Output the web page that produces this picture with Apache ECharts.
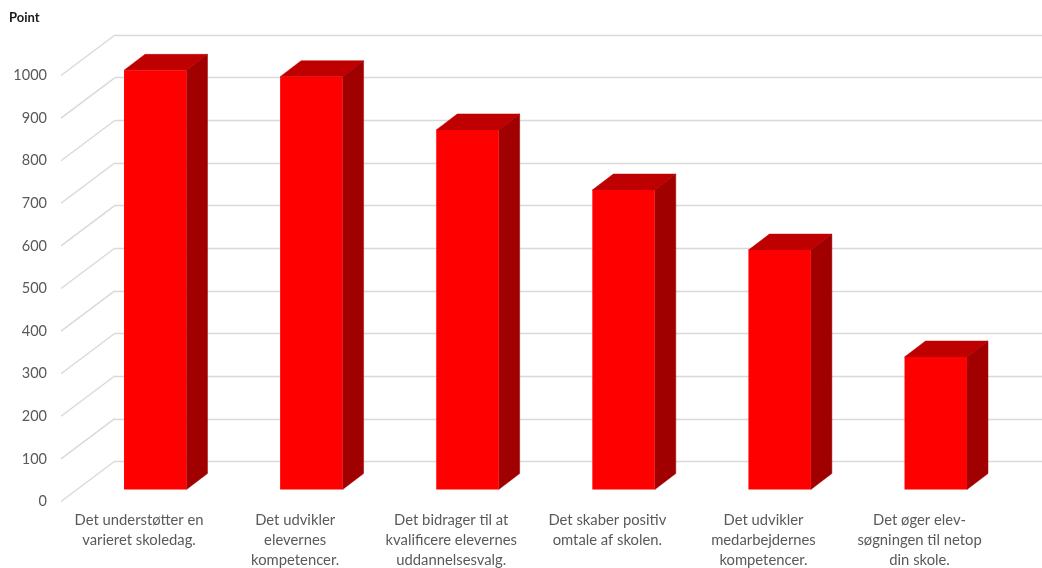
<!DOCTYPE html>
<html><head><meta charset="utf-8">
<style>html,body{margin:0;padding:0;background:#fff}#c{width:1042px;height:568px}</style>
<script src="https://cdn.jsdelivr.net/npm/echarts@6/dist/echarts.min.js"></script>
</head><body><div id="c"></div>
<script>
const categories = [
  "Det understøtter en\nvarieret skoledag.",
  "Det udvikler\nelevernes\nkompetencer.",
  "Det bidrager til at\nkvalificere elevernes\nuddannelsesvalg.",
  "Det skaber positiv\nomtale af skolen.",
  "Det udvikler\nmedarbejdernes\nkompetencer.",
  "Det øger elev-\nsøgningen til netop\ndin skole."
];
const values = [984, 969, 844, 703, 562, 311];
const yTicks = [0,100,200,300,400,500,600,700,800,900,1000];

const FONT = 'Lato, "Open Sans", sans-serif';
const WALL = [54, -40.5];      // floor depth: front edge to back wall
const BAR_OFF = [16.2, -12];   // front face of bars relative to the front edge
const BAR_DEPTH = [21, -16];   // depth of each bar
const BAR_RATIO = 0.4;
const GRID_COLOR = '#D9D9D9';

function barItem(params, api) {
  const c = api.coord([api.value(0), api.value(1)]);
  const b = api.coord([api.value(0), 0]);
  const w = api.size([1, 0])[0] * BAR_RATIO;
  const x0 = c[0] + BAR_OFF[0] - w / 2, x1 = x0 + w;
  const yT = c[1] + BAR_OFF[1], yB = b[1] + BAR_OFF[1];
  const dx = BAR_DEPTH[0], dy = BAR_DEPTH[1];
  return { type: 'group', children: [
    { type: 'polygon', shape: { points: [[x0,yT],[x1,yT],[x1+dx,yT+dy],[x0+dx,yT+dy]] }, style: { fill: '#BF0000', stroke: '#BF0000', lineWidth: 0.5 } },
    { type: 'polygon', shape: { points: [[x1,yT],[x1+dx,yT+dy],[x1+dx,yB+dy],[x1,yB]] }, style: { fill: '#A00000', stroke: '#A00000', lineWidth: 0.5 } },
    { type: 'rect', shape: { x: x0, y: yT, width: w, height: yB - yT }, style: { fill: '#FF0000' } }
  ]};
}
function diagItem(params, api) {
  const c = api.coord([0, api.value(1)]);
  const x = c[0] - api.size([1, 0])[0] / 2;
  return { type: 'line', shape: { x1: x, y1: c[1], x2: x + WALL[0], y2: c[1] + WALL[1] },
           style: { stroke: GRID_COLOR, lineWidth: 1.4, fill: null } };
}

const chart = echarts.init(document.getElementById('c'), null, { renderer: 'canvas' });
chart.setOption({
  animation: false,
  backgroundColor: '#fff',
  title: { text: 'Point', left: 9, top: 11, padding: 0,
           textStyle: { fontFamily: FONT, fontSize: 13, fontWeight: 'bold', color: '#1a1a1a' } },
  grid: [
    { left: 61, top: 75.5, width: 936.6, height: 426, outerBoundsMode: 'none' },
    { left: 115, top: 35, width: 936.6, height: 426.5, outerBoundsMode: 'none' }
  ],
  xAxis: [
    { type: 'category', gridIndex: 0, data: categories,
      axisLine: { show: false }, axisTick: { show: false }, splitLine: { show: false },
      axisLabel: { interval: 0, margin: 9, fontFamily: FONT, fontSize: 14.8, color: '#595959', lineHeight: 20, align: 'center' } },
    { type: 'category', gridIndex: 1, data: categories, show: false }
  ],
  yAxis: [
    { type: 'value', gridIndex: 0, min: 0, max: 1000, interval: 100,
      axisLine: { show: false }, axisTick: { show: false }, splitLine: { show: false },
      axisLabel: { margin: 14, fontFamily: FONT, fontSize: 14.5, color: '#595959', formatter: v => String(v) } },
    { type: 'value', gridIndex: 1, min: 0, max: 1000, interval: 100,
      axisLine: { show: false }, axisTick: { show: false }, axisLabel: { show: false },
      splitLine: { show: true, lineStyle: { color: GRID_COLOR, width: 1.4 } } }
  ],
  series: [
    { type: 'custom', name: 'floor', xAxisIndex: 0, yAxisIndex: 0, clip: false, z: 1, silent: true,
      data: yTicks.map(v => [0, v]), renderItem: diagItem },
    { type: 'custom', name: 'Point', xAxisIndex: 0, yAxisIndex: 0, clip: false, z: 3,
      data: values.map((v, i) => [i, v]), renderItem: barItem }
  ]
});
</script></body></html>
